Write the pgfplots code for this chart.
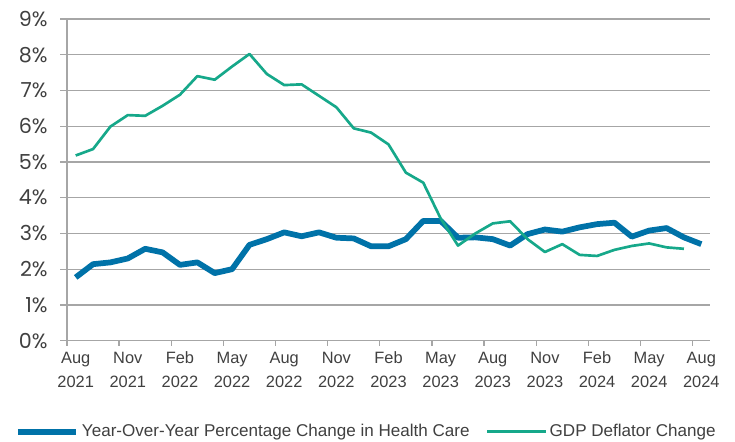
\documentclass[border=0pt]{standalone}
\usepackage{pgfplots}
\pgfplotsset{compat=1.18}
\usepackage{fontspec}
\setmainfont{Liberation Sans}
\newfontfamily\yfont{Poppins}
\definecolor{hcblue}{RGB}{0,114,168}
\definecolor{gdpgreen}{RGB}{22,168,138}
\definecolor{gridgray}{RGB}{166,166,166}
\definecolor{txtgray}{RGB}{64,64,64}
\begin{document}
\begin{tikzpicture}
\begin{axis}[
  at={(0,0)}, anchor=south west,
  scale only axis, width=482.25pt, height=241.3pt,
  xmin=-0.5, xmax=36.5, ymin=0, ymax=9,
  axis y line*=left, axis x line*=bottom,
  axis line style={gridgray, line width=1pt},
  tick align=outside,
  major tick length=5pt, minor tick length=3.75pt,
  ytick={0,1,...,9},
  yticklabels={0\%,1\%,2\%,3\%,4\%,5\%,6\%,7\%,8\%,9\%},
  yticklabel style={font=\yfont\fontsize{15.5}{16}\selectfont, text=txtgray, xshift=-6pt},
  ytick style={draw=gridgray, line width=1pt},
  ymajorgrids, grid style={gridgray, line width=1pt},
  xtick={0,3,...,36},
  xticklabels={Aug\\2021,Nov\\2021,Feb\\2022,May\\2022,Aug\\2022,Nov\\2022,Feb\\2023,May\\2023,Aug\\2023,Nov\\2023,Feb\\2024,May\\2024,Aug\\2024},
  xticklabel style={align=center, font=\fontsize{12.3}{18}\selectfont, text=txtgray},
  major x tick style={draw=none},
  minor xtick={-0.5,2.5,...,35.5},
  minor x tick style={draw=gridgray, line width=1pt},
  legend style={at={(0.466,-0.283)}, anchor=center, draw=none, fill=none,
    legend columns=2, font=\fontsize{12.8}{14}\selectfont, text=txtgray,
    /tikz/every even column/.append style={column sep=10pt}},
  legend image code/.code={\draw[#1] (0pt,0pt) -- (44pt,0pt);},
]
\addplot[hcblue, line width=4.3pt, line join=round, no marks] coordinates {
(0,1.77) (1,2.14) (2,2.19) (3,2.30) (4,2.57) (5,2.47) (6,2.12) (7,2.19) (8,1.89) (9,2.00)
(10,2.68) (11,2.84) (12,3.03) (13,2.92) (14,3.03) (15,2.88) (16,2.86) (17,2.64) (18,2.64)
(19,2.84) (20,3.35) (21,3.35) (22,2.88) (23,2.89) (24,2.84) (25,2.66) (26,2.98) (27,3.11)
(28,3.05) (29,3.17) (30,3.26) (31,3.30) (32,2.91) (33,3.08) (34,3.15) (35,2.89) (36,2.70)
};
\addlegendentry{Year-Over-Year Percentage Change in Health Care}
\addplot[gdpgreen, line width=2pt, line join=round, no marks] coordinates {
(0,5.18) (1,5.36) (2,5.99) (3,6.31) (4,6.29) (5,6.57) (6,6.88) (7,7.40) (8,7.30) (9,7.67)
(10,8.02) (11,7.46) (12,7.15) (13,7.17) (14,6.85) (15,6.53) (16,5.94) (17,5.82) (18,5.49)
(19,4.70) (20,4.42) (21,3.42) (22,2.66) (23,3.00) (24,3.28) (25,3.34) (26,2.84) (27,2.48)
(28,2.70) (29,2.40) (30,2.37) (31,2.54) (32,2.65) (33,2.72) (34,2.61) (35,2.57)
};
\addlegendentry{GDP Deflator Change}
\end{axis}
\pgfresetboundingbox
\path (-50.25pt,-75.98pt) rectangle (501pt,255.5pt);
\end{tikzpicture}
\end{document}
